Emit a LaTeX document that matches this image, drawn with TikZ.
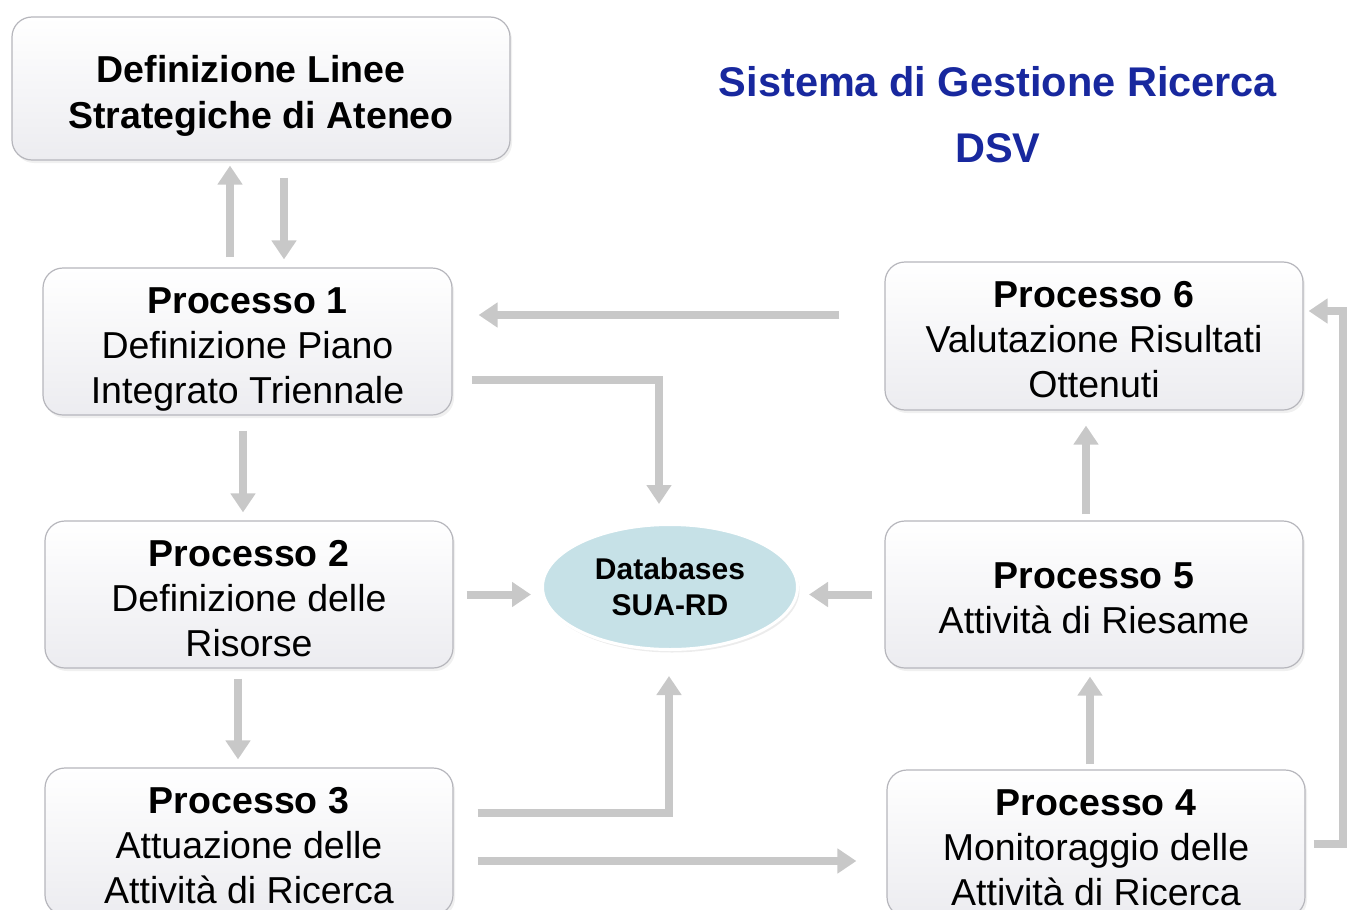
\documentclass[tikz,border=0pt]{standalone}
\usepackage{fontspec}
\setmainfont{Liberation Sans}
\usetikzlibrary{arrows.meta,positioning,shapes.geometric,shadows,calc}
\definecolor{boxedge}{RGB}{182,182,188}
\definecolor{boxlow}{RGB}{236,236,240}
\definecolor{flowgrey}{RGB}{200,200,200}
\definecolor{dbfill}{RGB}{198,225,231}
\definecolor{titleblue}{RGB}{24,40,158}
\newcommand{\hiup}{\rule{0pt}{41pt}}
\newcommand{\lodown}{\rule[-8pt]{0pt}{8pt}}
\tikzset{
  proc/.style={rounded corners=20pt,draw=boxedge,line width=1.2pt,
               top color=white,bottom color=boxlow,
               drop shadow={opacity=.12,shadow xshift=2pt,shadow yshift=-3pt},
               align=center,inner sep=0pt,minimum width=408pt,minimum height=147pt,
               font=\fontsize{37.5}{45}\selectfont},
  dbase/.style={ellipse,fill=dbfill,draw=white,line width=3pt,
                drop shadow={opacity=.15,shadow xshift=2pt,shadow yshift=-3pt},
                minimum width=255pt,minimum height=125pt,inner sep=0pt,align=center,
                font=\fontsize{30}{36}\selectfont\bfseries},
  heading/.style={text=titleblue,font=\fontsize{41.5}{50}\selectfont\bfseries},
  flow/.style={draw=flowgrey,line width=8pt,
               -{Triangle[length=19pt,width=24pt]}},
}
\begin{document}
\begin{tikzpicture}[x=1pt,y=-1pt]
  \useasboundingbox (0,0) rectangle (1347,910);
  % process boxes
  \node[proc,minimum width=498pt,minimum height=143pt,
        font=\fontsize{37.5}{46}\selectfont\bfseries] (top) at (261,88.5)
    {\hiup Definizione Linee\hspace*{20pt}\\ Strategiche di Ateneo\lodown};
  \node[proc,minimum width=409pt] (p1) at (247.5,341.5)
    {\hiup\textbf{Processo 1}\\ Definizione Piano\\ Integrato Triennale\lodown};
  \node[proc] (p2) at (249,594.5)
    {\hiup\textbf{Processo 2}\\ Definizione delle\\ Risorse\lodown};
  \node[proc] (p3) at (249,841.5)
    {\hiup\textbf{Processo 3}\\ Attuazione delle\\ Attività di Ricerca\lodown};
  \node[proc,minimum width=418pt,minimum height=148pt] (p6) at (1094,336)
    {\hiup\textbf{Processo 6}\\ Valutazione Risultati\\ Ottenuti\lodown};
  \node[proc,minimum width=418pt] (p5) at (1094,594.5)
    {\hiup\textbf{Processo 5}\\ Attività di Riesame\lodown};
  \node[proc,minimum width=418pt] (p4) at (1096,843.5)
    {\hiup\textbf{Processo 4}\\ Monitoraggio delle\\ Attività di Ricerca\lodown};
  \node[dbase] (db) at (670,587) {Databases\\ SUA-RD};
  % title
  \node[heading] (title) at (998,82) {Sistema di Gestione Ricerca};
  \node[heading] (dsv) at (998,148) {DSV};

  % anchors for the connectors
  \coordinate (u1) at ([xshift=-17.5pt]p1.north);
  \coordinate (d1) at ([xshift=23pt]top.south);
  \coordinate (a6) at ([yshift=21pt]p6.west);
  \coordinate (b1) at ([yshift=-38.5pt]p1.east);
  \coordinate (bd) at ([xshift=-11pt]db.north);
  \coordinate (c1) at ([xshift=-4.5pt]p1.south);
  \coordinate (c2) at ([xshift=-11pt]p2.south);
  \coordinate (e3) at ([yshift=28.5pt]p3.east);
  \coordinate (ed) at ([xshift=-1pt]db.south);
  \coordinate (f3) at ([yshift=-19.5pt]p3.east);
  \coordinate (g4) at ([xshift=-6pt]p4.north);
  \coordinate (g5) at ([xshift=-8pt]p5.north);
  \coordinate (h6) at ([yshift=25pt]p6.east);
  \coordinate (rx) at (1343,0);

  % connectors
  \draw[flow,shorten <=10pt,shorten >=5pt] (u1) -- (u1 |- top.south);
  \draw[flow,shorten <=17pt,shorten >=8pt] (d1) -- (d1 |- p1.north);
  \draw[flow,shorten <=45pt,shorten >=26pt] (a6) -- (a6 -| p1.east);
  \draw[flow,shorten <=19pt,shorten >=19pt] (b1) -| (bd);
  \draw[flow,shorten <=15pt,shorten >=8pt] (c1) -- (c1 |- p2.north);
  \draw[flow,shorten <=13pt,shorten >=10pt] (p2.east) -- (p2.east -| db.west);
  \draw[flow,shorten <=12pt,shorten >=10pt] (p5.west) -- (p5.west -| db.east);
  \draw[flow,shorten <=10pt,shorten >=8pt] (c2) -- (c2 |- p3.north);
  \draw[flow,shorten <=24pt,shorten >=25pt] (e3) -| (ed);
  \draw[flow,shorten <=24pt,shorten >=30pt] (f3) -- (f3 -| p4.west);
  \draw[flow,shorten <=5pt,shorten >=8pt] (g4) -- (g4 |- p5.south);
  \draw[flow,shorten <=6pt,shorten >=15pt] (g5) -- (g5 |- p6.south);
  \draw[flow,shorten <=8pt,shorten >=5pt] (p4.east) -- (p4.east -| rx)
    -- (rx |- h6) -- (h6);
\end{tikzpicture}
\end{document}
